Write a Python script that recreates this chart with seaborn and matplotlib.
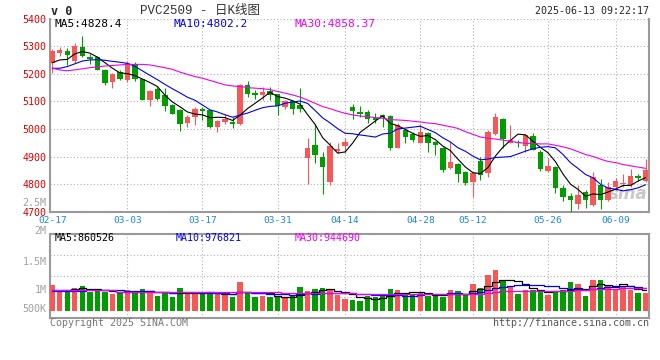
import numpy as np
import pandas as pd
import matplotlib
matplotlib.use("Agg")
import matplotlib.pyplot as plt
import matplotlib.transforms as mtransforms
import seaborn as sns

# trading days shown on the chart (MM-DD)
dates = ["02-17", "02-18", "02-19", "02-20", "02-21", "02-24", "02-25", "02-26", "02-27", "02-28",
         "03-03", "03-04", "03-05", "03-06", "03-07", "03-10", "03-11", "03-12", "03-13", "03-14",
         "03-17", "03-18", "03-19", "03-20", "03-21", "03-24", "03-25", "03-26", "03-27", "03-28",
         "03-31", "04-01", "04-02", "04-03", "04-07", "04-08", "04-09", "04-10", "04-11", "04-14",
         "04-15", "04-16", "04-17", "04-18", "04-21", "04-22", "04-23", "04-24", "04-25", "04-28",
         "04-29", "04-30", "05-06", "05-07", "05-08", "05-09", "05-12", "05-13", "05-14", "05-15",
         "05-16", "05-19", "05-20", "05-21", "05-22", "05-23", "05-26", "05-27", "05-28", "05-29",
         "05-30", "06-03", "06-04", "06-05", "06-06", "06-09", "06-10", "06-11", "06-12", "06-13"]

open_ = [5240, 5274, 5284, 5248, 5298, 5262, 5260, 5214, 5172, 5206,
         5176, 5234, 5180, 5104, 5146, 5124, 5086, 5070, 5022, 5042,
         5074, 5068, 5008, 5027, 5027, 5018, 5160, 5132, 5122, 5138,
         5126, 5080, 5100, 5086, 4896, 4941, 4900, 4808, 4920, 4940,
         5080, 5062, 5062, 5040, 5050, 5048, 4932, 4996, 4982, 4948,
         4986, 4952, 4932, 4858, 4872, 4845, 4808, 4886, 4840, 4982,
         5038, 4950, 4954, 4940, 4974, 4918, 4850, 4864, 4788, 4758,
         4728, 4774, 4726, 4798, 4743, 4792, 4801, 4796, 4830, 4812]
high = [5288, 5298, 5294, 5310, 5336, 5272, 5266, 5216, 5202, 5214,
        5248, 5244, 5182, 5142, 5152, 5148, 5092, 5072, 5052, 5080,
        5080, 5070, 5034, 5056, 5042, 5164, 5174, 5140, 5152, 5154,
        5128, 5104, 5104, 5148, 4966, 5020, 4918, 4954, 4950, 4966,
        5090, 5082, 5070, 5058, 5056, 5052, 5022, 5002, 4990, 5020,
        4990, 4956, 4934, 4954, 4876, 4848, 4840, 4900, 4996, 5058,
        5040, 5014, 4962, 4982, 4984, 4924, 4894, 4866, 4798, 4770,
        4796, 4780, 4846, 4820, 4808, 4822, 4837, 4856, 4838, 4892]
low = [5202, 5266, 5232, 5240, 5262, 5236, 5212, 5160, 5150, 5176,
       5172, 5175, 5105, 5084, 5104, 5064, 5054, 4994, 5006, 5014,
       5034, 5003, 4991, 5018, 5004, 5013, 5116, 5110, 5106, 5106,
       5052, 5074, 5056, 5060, 4800, 4876, 4766, 4798, 4912, 4912,
       5038, 5044, 5022, 5022, 5008, 4926, 4930, 4950, 4954, 4948,
       4918, 4906, 4844, 4856, 4810, 4798, 4754, 4816, 4826, 4978,
       4932, 4948, 4934, 4918, 4924, 4850, 4846, 4768, 4740, 4698,
       4712, 4714, 4720, 4710, 4740, 4780, 4790, 4790, 4812, 4808]
close = [5282, 5286, 5268, 5300, 5266, 5254, 5214, 5168, 5200, 5182,
         5238, 5180, 5106, 5136, 5110, 5082, 5056, 5020, 5042, 5072,
         5066, 5006, 5028, 5036, 5020, 5160, 5128, 5122, 5134, 5122,
         5082, 5100, 5074, 5072, 4932, 4905, 4862, 4938, 4928, 4954,
         5066, 5056, 5038, 5032, 5044, 4932, 5016, 4970, 4960, 4990,
         4948, 4942, 4852, 4880, 4836, 4804, 4840, 4834, 4990, 5044,
         4964, 4962, 4948, 4978, 4926, 4854, 4866, 4786, 4755, 4742,
         4760, 4742, 4828, 4743, 4789, 4813, 4806, 4830, 4822, 4852]
# volume in thousands of lots
volume_k = [1093, 1004, 992, 1046, 1075, 974, 992, 974, 933, 956,
            1004, 974, 1022, 974, 897, 944, 885, 1040, 956, 956,
            933, 956, 933, 933, 885, 1153, 956, 873, 897, 873,
            897, 873, 897, 1063, 992, 1022, 1046, 1004, 915, 843,
            825, 808, 897, 873, 933, 1022, 1004, 933, 933, 956,
            897, 897, 885, 1004, 986, 933, 1111, 1046, 1272, 1361,
            1165, 1075, 933, 1004, 1004, 992, 915, 986, 1004, 1153,
            1111, 897, 1182, 1182, 1093, 1016, 1064, 1004, 956, 956]

# moving-average values before the window fills (they come from earlier sessions)
ma5_head = [5240, 5250, 5252, 5272]
ma10_head = [5220, 5220, 5226, 5236, 5246, 5250, 5251, 5249, 5245]
ma30_head = [5220, 5214, 5211, 5214, 5218, 5222, 5225, 5228, 5230, 5232,
             5234, 5234, 5234, 5232, 5227, 5222, 5216, 5206, 5198, 5190,
             5184, 5176, 5168, 5160, 5156, 5154, 5150, 5148, 5146]
vol_ma5_head = [1010, 1005, 1000, 1030]
vol_ma10_head = [992, 990, 990, 992, 996, 1000, 1004, 1004, 1000]
vol_ma30_head = [1004, 1004, 1004, 1004, 1004, 1004, 1004, 1004, 1004, 974,
                 974, 974, 974, 974, 974, 974, 974, 974, 974, 974,
                 974, 974, 974, 974, 974, 968, 968, 968, 968]

tick_dates = ["02-17", "03-03", "03-17", "03-31", "04-14", "04-28", "05-12", "05-26", "06-09"]
price_ticks = [4700, 4800, 4900, 5000, 5100, 5200, 5300, 5400]
vol_ticks = [500, 1000, 1500, 2000, 2500]
vol_tick_labels = ["500K", "1M", "1.5M", "2M", "2.5M"]
price_ma_text = ["MA5:4828.4", "MA10:4802.2", "MA30:4858.37"]
vol_ma_text = ["MA5:860526", "MA10:976821", "MA30:944690"]

RED = "#f65858"
GREEN = "#009c00"
MA_COLORS = ["black", "#0000ee", "#ee00ee"]
GRID = "#b0b0b0"
SPINE = "#9a9a9a"
MONO = "DejaVu Sans Mono"
VOL_FLOOR = 635

sns.set_style("white")
plt.rcParams["font.family"] = [MONO, "Noto Sans CJK SC"]

df = pd.DataFrame({"date": dates, "open": open_, "high": high, "low": low,
                   "close": close, "volume": volume_k})
df["x"] = np.arange(len(df))


def moving_average(series, window, head):
    ma = series.rolling(window).mean()
    ma.iloc[:len(head)] = head
    return ma


price_ma = [moving_average(df["close"], w, h) for w, h in
            [(5, ma5_head), (10, ma10_head), (30, ma30_head)]]
vol_ma = [moving_average(df["volume"], w, h) for w, h in
          [(5, vol_ma5_head), (10, vol_ma10_head), (30, vol_ma30_head)]]

fig = plt.figure(figsize=(6.6, 3.6), dpi=100)
ax = fig.add_axes([50 / 660, 1 - 212 / 360, 599 / 660, 193.5 / 360])
axv = fig.add_axes([50 / 660, 1 - 318.3 / 360, 599 / 660, 84 / 360])

colors = np.where(df["close"] >= df["open"], RED, GREEN)
tick_pos = [dates.index(d) for d in tick_dates]

#@ candles
ax.vlines(df["x"], df["low"], df["high"], colors=colors, lw=0.8, zorder=3)
body = (df["close"] - df["open"]).abs().clip(lower=2)
ax.bar(df["x"], body, bottom=np.minimum(df["open"], df["close"]), width=0.72,
       color=colors, lw=0, zorder=4)
for ma, c in zip(price_ma, MA_COLORS):
    sns.lineplot(x=df["x"], y=ma, ax=ax, color=c, lw=0.8, zorder=5)

ax.set_xlim(-0.3, 79.45)
ax.set_ylim(4700, 5400)
ax.set_yticks(price_ticks)
ax.set_xticks(tick_pos, tick_dates)
ax.tick_params(axis="y", length=0, pad=2.5, labelcolor="#e00000", labelsize=7.2)
ax.tick_params(axis="x", length=0, pad=3, labelcolor="#1f88d4", labelsize=6.8)
ax.grid(axis="y", color=GRID, ls=(0, (1, 2)), lw=0.8)
ax.grid(axis="x", visible=False)
for p in tick_pos[1:]:
    ax.axvline(p, color=GRID, ls=(0, (1, 2)), lw=0.8, zorder=0)
ax.set_xlabel("")
ax.set_ylabel("")
for s in ["left", "right", "bottom"]:
    ax.spines[s].set_color(SPINE)
    ax.spines[s].set_linewidth(1.5)
ax.spines["top"].set_visible(False)

for t, c, xa in zip(price_ma_text, MA_COLORS, [0.007, 0.207, 0.409]):
    ax.text(xa, 0.972, t, transform=ax.transAxes, color=c, fontsize=8, va="center", ha="left")
ax.text(0.997, 0.095, "sina", transform=ax.transAxes, color="#c8c8c8", fontsize=12,
        style="italic", weight="bold", ha="right", va="center", family="DejaVu Sans", zorder=2)

#@ volume
axv.bar(df["x"], df["volume"] - VOL_FLOOR, bottom=VOL_FLOOR, width=0.72, color=colors, lw=0, zorder=3)
for ma, c in zip(vol_ma, MA_COLORS):
    sns.lineplot(x=df["x"], y=ma, ax=axv, color=c, lw=0.9, drawstyle="steps-mid", zorder=5)

axv.set_xlim(-0.3, 79.45)
axv.set_ylim(500, 2000)
axv.set_xticks(tick_pos)
axv.set_yticks([])
axv.tick_params(axis="x", length=0, labelbottom=False)
for p in tick_pos[1:]:
    axv.axvline(p, color=GRID, ls=(0, (1, 2)), lw=0.8, zorder=0)
for h in np.linspace(500, 2000, 5)[1:-1]:
    axv.axhline(h, color=GRID, ls=(0, (1, 2)), lw=0.8, zorder=0)
axv.set_xlabel("")
axv.set_ylabel("")
for s in ["left", "right", "bottom", "top"]:
    axv.spines[s].set_color(SPINE)
    axv.spines[s].set_linewidth(1.5)

ytrans = axv.get_yaxis_transform()
for v, lab in zip(vol_ticks, vol_tick_labels):
    if lab == "500K":
        tr, va = mtransforms.offset_copy(ytrans, fig=fig, y=4, units="dots"), "bottom"
    elif v >= 2000:
        tr, va = mtransforms.offset_copy(ytrans, fig=fig, y=-1.5, units="dots"), "bottom"
    else:
        tr, va = ytrans, "center"
    axv.text(-0.006, v, lab, transform=tr, color="#a0a0a0", fontsize=7.2,
             ha="right", va=va, clip_on=False)

for t, c, xa in zip(vol_ma_text, MA_COLORS, [0.007, 0.209, 0.409]):
    axv.text(xa, 0.952, t, transform=axv.transAxes, color=c, fontsize=7.2, va="center", ha="left")

#@ header and footer
fig.text(51 / 660, 1 - 11.5 / 360, "v 0", fontsize=8.5, weight="bold", va="center", ha="left")
fig.text(140 / 660, 1 - 11 / 360, "PVC2509 - 日K线图", fontsize=9, color="#333333",
         va="center", ha="left", family=["Liberation Mono", "Noto Sans CJK SC"])
fig.text(649 / 660, 1 - 11.5 / 360, "2025-06-13 09:22:17", fontsize=7.2, va="center", ha="right")
fig.text(50 / 660, 1 - 323.5 / 360, "Copyright 2025 SINA.COM", fontsize=7.2, color="#777777",
         va="center", ha="left")
fig.text(649 / 660, 1 - 323.5 / 360, "http://finance.sina.com.cn", fontsize=7.2, color="#555555",
         va="center", ha="right")

plt.savefig("out.png", dpi=100)
plt.close()
